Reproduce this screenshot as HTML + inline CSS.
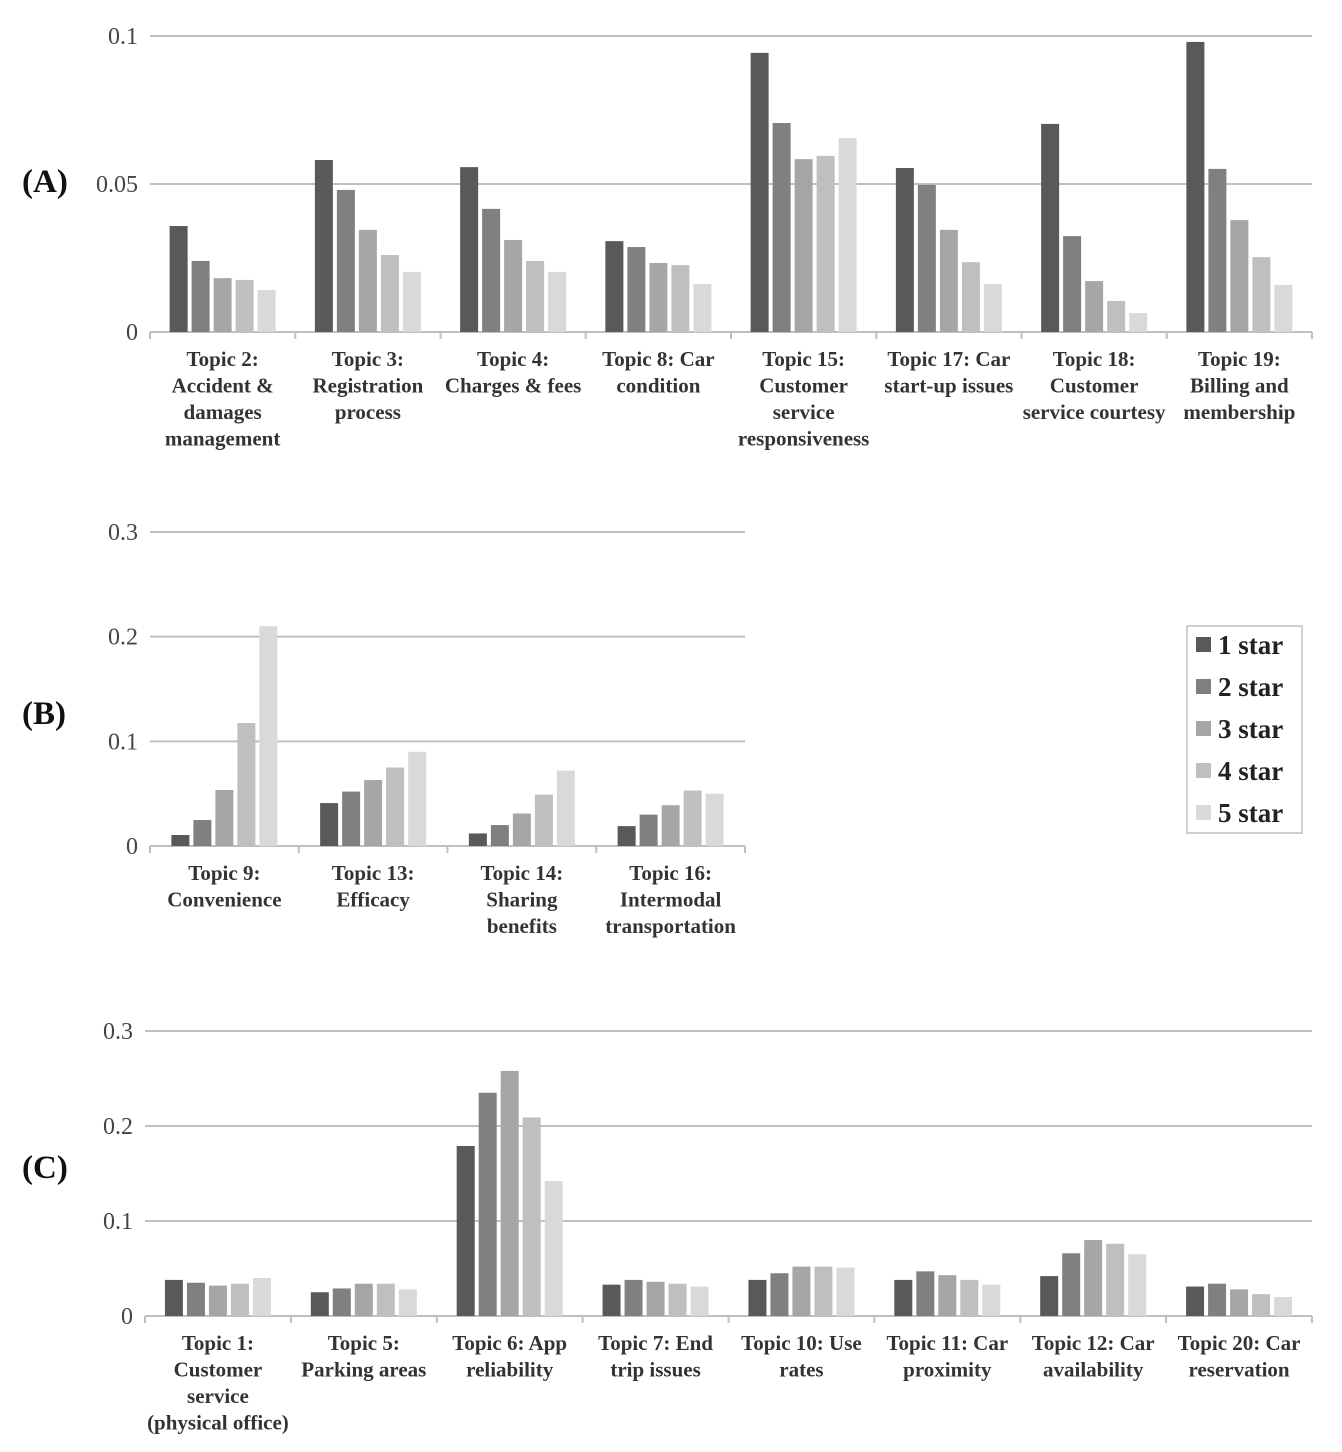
<!DOCTYPE html>
<html><head><meta charset="utf-8"><style>
html,body{margin:0;padding:0;background:#fff;}
svg{display:block;}
</style></head><body>
<svg id="chart" width="1342" height="1452" xmlns="http://www.w3.org/2000/svg"></svg>
<script>
const colors = ["#595959","#808080","#a6a6a6","#bfbfbf","#d9d9d9"];
const seriesNames = ["1 star","2 star","3 star","4 star","5 star"];

const catsA = [["Topic 2:","Accident &","damages","management"],["Topic 3:","Registration","process"],["Topic 4:","Charges & fees"],["Topic 8: Car","condition"],["Topic 15:","Customer","service","responsiveness"],["Topic 17: Car","start-up issues"],["Topic 18:","Customer","service courtesy"],["Topic 19:","Billing and","membership"]];
const valsA = [[.0358,.024,.0182,.0176,.0142],[.0581,.048,.0345,.026,.0203],[.0557,.0416,.0311,.024,.0203],[.0307,.0287,.0233,.0226,.0162],[.0943,.0706,.0584,.0595,.0655],[.0554,.0497,.0345,.0236,.0162],[.0703,.0324,.0172,.0105,.0064],[.098,.0551,.0378,.0253,.0159]];
const ticksA = [0,0.05,0.1];
const tickLabelsA = ["0","0.05","0.1"];

const catsB = [["Topic 9:","Convenience"],["Topic 13:","Efficacy"],["Topic 14:","Sharing","benefits"],["Topic 16:","Intermodal","transportation"]];
const valsB = [[.0105,.0248,.0535,.1175,.21],[.041,.052,.063,.075,.09],[.012,.020,.031,.049,.072],[.019,.030,.039,.053,.050]];
const ticksB = [0,0.1,0.2,0.3];
const tickLabelsB = ["0","0.1","0.2","0.3"];

const catsC = [["Topic 1:","Customer","service","(physical office)"],["Topic 5:","Parking areas"],["Topic 6: App","reliability"],["Topic 7: End","trip issues"],["Topic 10: Use","rates"],["Topic 11: Car","proximity"],["Topic 12: Car","availability"],["Topic 20: Car","reservation"]];
const valsC = [[.038,.035,.032,.034,.040],[.025,.029,.034,.034,.028],[.179,.235,.258,.209,.142],[.033,.038,.036,.034,.031],[.038,.045,.052,.052,.051],[.038,.047,.043,.038,.033],[.042,.066,.080,.076,.065],[.031,.034,.028,.023,.020]];
const ticksC = [0,0.1,0.2,0.3];
const tickLabelsC = ["0","0.1","0.2","0.3"];

const NS="http://www.w3.org/2000/svg";
const svg=document.getElementById('chart');
function mk(tag,attrs,parent){const e=document.createElementNS(NS,tag);for(const k in attrs)e.setAttribute(k,attrs[k]);(parent||svg).appendChild(e);return e;}

function panel(key,label,cats,vals,ticks,tickLabels,x0,x1,y0,yTop,vTop,labelY){
  const g=mk('g',{});
  
  
  const y=v=>y0-(v/vTop)*(y0-yTop);
  const gw=(x1-x0)/cats.length;
  ticks.forEach((t,i)=>{
    const ln=mk('line',{x1:x0,x2:x1,y1:y(t),y2:y(t),stroke:'#bfbfbf','stroke-width':2},g);
    
    
    const tx=mk('text',{x:x0-12,y:y(t)+8,'text-anchor':'end','font-family':'"Liberation Serif",serif','font-size':24,fill:'#444'},g);
    tx.textContent=tickLabels[i];
    
    
  });
  for(let c=0;c<=cats.length;c++){
    const tk=mk('line',{x1:x0+c*gw,x2:x0+c*gw,y1:y0,y2:y0+7,stroke:'#bfbfbf','stroke-width':2},g);
    
    
  }
  cats.forEach((cat,c)=>{
    const cx=x0+gw*(c+0.5);
    vals[c].forEach((v,s)=>{
      const r=mk('rect',{x:cx+(s-2)*22-9,y:y(v),width:18,height:y0-y(v),fill:colors[s]},g);
      
      
    });
    cat.forEach((line,li)=>{
      const t=mk('text',{x:cx,y:y0+34+li*26.5,'text-anchor':'middle','font-family':'"Liberation Serif",serif','font-size':21,'font-weight':'bold',fill:'#333'},g);
      t.textContent=line;
      
      
    });
  });
  const pl=mk('text',{x:22,y:labelY,'font-family':'"Liberation Serif",serif','font-size':33,'font-weight':'bold',fill:'#111'},g);
  pl.textContent=label;
  
  
}
panel('a','(A)',catsA,valsA,ticksA,tickLabelsA,150,1312,332,36,0.1,192);
panel('b','(B)',catsB,valsB,ticksB,tickLabelsB,150,745,846,532,0.3,724);
panel('c','(C)',catsC,valsC,ticksC,tickLabelsC,145,1312,1316,1031,0.3,1178);

const lg=mk('g',{});


mk('rect',{x:1187,y:626,width:115,height:207,fill:'#fff',stroke:'#bfbfbf','stroke-width':1.5},lg);
seriesNames.forEach((n,i)=>{
  const yy=645+i*42;
  const sq=mk('rect',{x:1196,y:yy-8,width:15,height:15,fill:colors[i]},lg);
  
  
  const t=mk('text',{x:1218,y:yy+9,'font-family':'"Liberation Serif",serif','font-size':27,'font-weight':'bold',fill:'#222'},lg);
  t.textContent=n;
  
  
});
</script>
</body></html>
